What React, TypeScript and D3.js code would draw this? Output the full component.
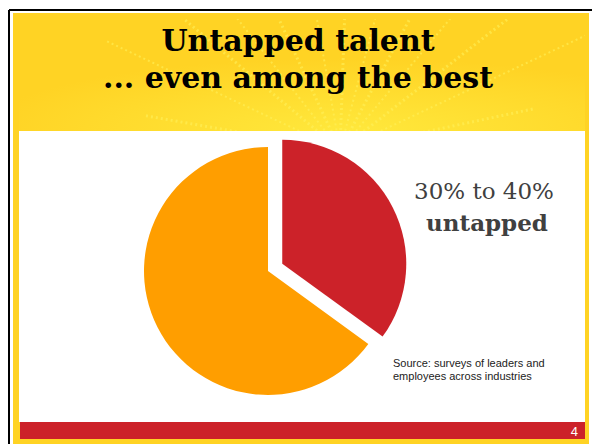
import React from "react";
import * as d3 from "d3";

const categories = ["Untapped", "Tapped"];
const values = [35, 65];
const sliceColors = ["#CC2229", "#FF9E00"];
const titleLines = ["Untapped talent", "... even among the best"];
const calloutLines = ["30% to 40%", "untapped"];
const sourceLines = ["Source: surveys of leaders and", "employees across industries"];
const pageNumber = "4";
const rayAngles = [-170, -155, -140, -128, -115, -100, -88, -75, -62, -50, -38, -25, -12];

export default function App() {
  const W = 592, H = 444;
  const cx = 268, cy = 271, r = 124, explode = 16;
  const pie = d3.pie<number>().sort(null).value((d) => d)(values);
  const arc = d3.arc<d3.PieArcDatum<number>>().innerRadius(0).outerRadius(r);
  const rayCenter = [340, 150];

  return (
    <svg width={W} height={H} style={{ position: "fixed", left: 0, top: 0 }} xmlns="http://www.w3.org/2000/svg">
      <defs>
        <clipPath id="hdr"><rect x={19} y={19} width={566} height={112} /></clipPath>
        <radialGradient id="glow" cx="58%" cy="100%" r="65%">
          <stop offset="0%" stopColor="#FFE83C" />
          <stop offset="100%" stopColor="#FFD324" />
        </radialGradient>
      </defs>
      <rect x={0} y={0} width={W} height={H} fill="#ffffff" />
      <line x1={9} y1={10} x2={W} y2={10} stroke="#000" strokeWidth={2} />
      <line x1={9} y1={10} x2={9} y2={H} stroke="#000" strokeWidth={2} />
      <rect x={13} y={13} width={576} height={H - 13} fill="#FFD324" />
      <rect x={19} y={19} width={566} height={112} fill="url(#glow)" />
      <g clipPath="url(#hdr)" opacity={0.6}>
        {rayAngles.map((a, i) => {
          const rad = (a * Math.PI) / 180;
          const len = 200 + (i % 3) * 60;
          return (
            <line key={i} x1={rayCenter[0]} y1={rayCenter[1]}
              x2={rayCenter[0] + Math.cos(rad) * len} y2={rayCenter[1] + Math.sin(rad) * len}
              stroke="#FFF15A" strokeWidth={i % 2 ? 2 : 3} strokeDasharray="2 3" />
          );
        })}
      </g>
      <rect x={19} y={131} width={566} height={291} fill="#ffffff" />
      <rect x={20} y={422} width={565} height={17} fill="#CC2229" />
      <text x={578} y={436} fill="#ffffff" fontFamily="Liberation Sans, Arial, sans-serif" fontSize={13} textAnchor="end">{pageNumber}</text>

      {titleLines.map((t, i) => (
        <text key={t} x={298} y={51 + i * 37} textAnchor="middle" fontFamily="DejaVu Serif, Georgia, serif"
          fontWeight="bold" fontSize={30} fill="#000">{t}</text>
      ))}

      <g>
        {pie.map((p, i) => {
          const mid = (p.startAngle + p.endAngle) / 2;
          const off = i === 0 ? explode : 0;
          const dx = Math.sin(mid) * off, dy = -Math.cos(mid) * off;
          return (
            <path key={categories[i]} d={arc(p) || ""} fill={sliceColors[i]}
              transform={`translate(${cx + dx},${cy + dy})`} />
          );
        })}
      </g>

      <text x={484} y={199} textAnchor="middle" fontFamily="DejaVu Serif, Georgia, serif" fontSize={23} fill="#404040">{calloutLines[0]}</text>
      <text x={487} y={231} textAnchor="middle" fontFamily="DejaVu Serif, Georgia, serif" fontWeight="bold" fontSize={23} fill="#404040">{calloutLines[1]}</text>

      {sourceLines.map((t, i) => (
        <text key={t} x={393} y={367 + i * 13} fontFamily="Liberation Sans, Arial, sans-serif" fontSize={11} fill="#222">{t}</text>
      ))}
    </svg>
  );
}
